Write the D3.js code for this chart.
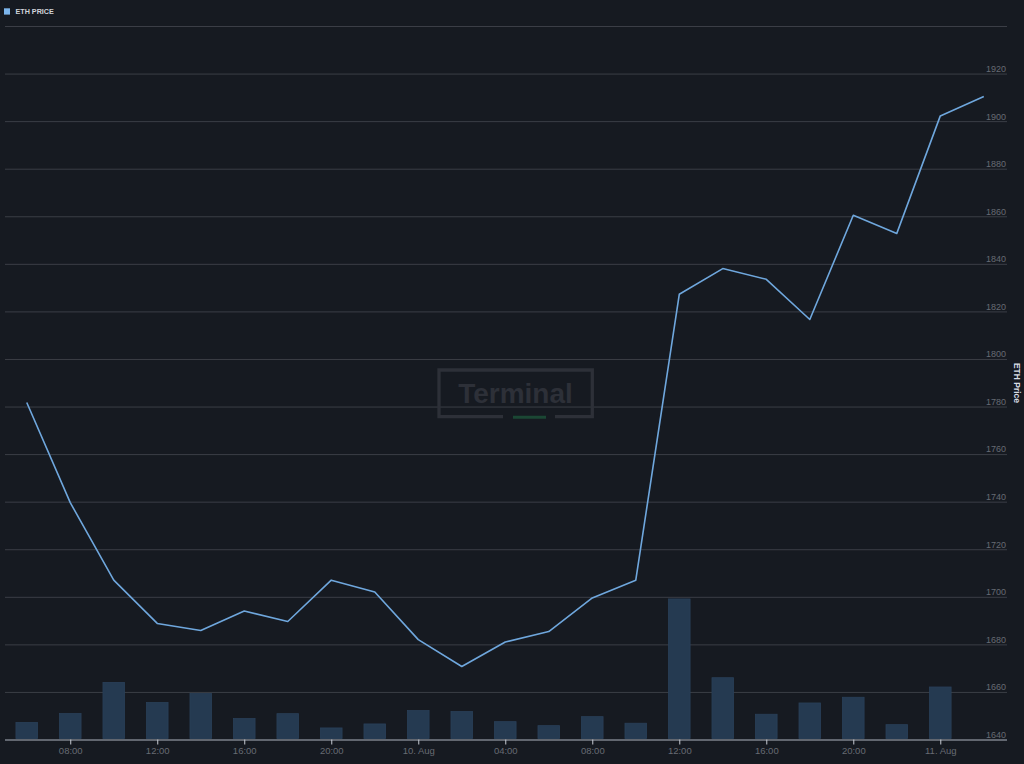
<!DOCTYPE html>
<html>
<head>
<meta charset="utf-8">
<script src="https://cdn.jsdelivr.net/npm/d3@7"></script>
<style>
  html, body { margin: 0; padding: 0; background: #161a21; }
  svg { display: block; font-family: "Liberation Sans", Arial, sans-serif; }
</style>
</head>
<body>
<svg id="chart" width="1024" height="764"></svg>
<script>
// 2-hourly samples, 9 Aug 06:00 -> 11 Aug 02:00
var start = new Date(2023, 7, 9, 6)
var price = [1781.7, 1739.6, 1707, 1688.8, 1685.8, 1694, 1689.6, 1707, 1702, 1682, 1670.7, 1681,
             1685.4, 1699.5, 1707, 1827.2, 1838, 1833.5, 1816.6, 1860.4, 1852.8, 1902.2, 1910.4]
var volume = [119, 182, 400, 259, 322, 147, 181, 81, 109, 203, 196, 125,
              97, 160, 114, 985, 433, 177, 256, 296, 104, 368]
var priceTicks = [1640, 1660, 1680, 1700, 1720, 1740, 1760, 1780, 1800, 1820, 1840, 1860, 1880, 1900, 1920, 1940]

var times = price.map(function(d, i){ return d3.timeHour.offset(start, i * 2) })

var svg = d3.select("#chart")
// plot box (note: "top" is taken by window.top)
var pLeft = 5, pRight = 1007, pTop = 26, pBottom = 739.5

var x = d3.scaleTime()
  .domain([new Date(2023, 7, 9, 5, 0), new Date(2023, 7, 11, 3, 4)])
  .range([pLeft, pRight])
var y = d3.scaleLinear().domain([1640, 1940]).range([pBottom, pTop])
var yv = d3.scaleLinear().domain([0, 5000]).range([pBottom, pTop])

// grid
var grid = svg.append("g").attr("transform", "translate(" + pLeft + ",0)")
  .call(d3.axisLeft(y).tickValues(priceTicks).tickSize(-(pRight - pLeft)).tickFormat(""))
grid.select(".domain").remove()
grid.selectAll("line").attr("stroke", "#3b3e46").attr("stroke-width", 1)

// watermark
var wm = svg.append("g").attr("fill", "none")
wm.append("path")
  .attr("d", "M503,416.6 L439,416.6 L439,370 L592.3,370 L592.3,416.6 L555,416.6")
  .attr("stroke", "#2d3038").attr("stroke-width", 3.3)
wm.append("line").attr("x1", 513).attr("x2", 546).attr("y1", 417.2).attr("y2", 417.2)
  .attr("stroke", "#1b4734").attr("stroke-width", 3)
wm.append("text").attr("x", 515.5).attr("y", 403).attr("text-anchor", "middle")
  .attr("font-size", 28).attr("font-weight", "bold").attr("fill", "#2d3038").text("Terminal")

// volume bars
var bw = 21.6
svg.append("g").selectAll("rect").data(volume).enter().append("rect")
  .attr("x", function(d, i){ return x(times[i]) - bw / 2 })
  .attr("y", function(d){ return yv(d) })
  .attr("width", bw)
  .attr("height", function(d){ return pBottom - 1 - yv(d) })
  .attr("fill", "#253a51")
  .attr("stroke", "#2a4059")
  .attr("stroke-width", 0.8)

// price line
var line = d3.line()
  .x(function(d, i){ return x(times[i]) })
  .y(function(d){ return y(d) })
svg.append("path").datum(price)
  .attr("d", line)
  .attr("fill", "none")
  .attr("stroke", "#6fa7dd")
  .attr("stroke-width", 1.6)
  .attr("stroke-linejoin", "round")

// x axis
var fmt = function(d){
  return d.getHours() === 0 ? d3.timeFormat("%-d. %b")(d) : d3.timeFormat("%H:%M")(d)
}
var xa = svg.append("g").attr("transform", "translate(0," + pBottom + ")")
  .call(d3.axisBottom(x).ticks(d3.timeHour.every(4)).tickSize(5).tickPadding(3).tickFormat(fmt))
xa.select(".domain").attr("stroke", "#9ba1ad").attr("d", "M" + pLeft + ",0.5H" + pRight)
xa.selectAll("line").attr("stroke", "#c8ccd4")
xa.selectAll("text").attr("fill", "#676b73").attr("font-size", 9.5).attr("font-family", null)

// y labels inside the plot, above their grid line
var ya = svg.append("g").attr("transform", "translate(" + (pRight - 1) + ",-5)")
  .call(d3.axisLeft(y).tickValues(priceTicks.slice(0, -1)).tickSize(0).tickPadding(0).tickFormat(d3.format("d")))
ya.select(".domain").remove()
ya.selectAll("text").attr("fill", "#676b73").attr("font-size", 9).attr("font-family", null)

// axis title
svg.append("text")
  .attr("transform", "translate(1014,383) rotate(90)")
  .attr("text-anchor", "middle")
  .attr("font-size", 8.5).attr("font-weight", "bold").attr("fill", "#d8dce4")
  .text("ETH Price")

// legend
svg.append("rect").attr("x", 4).attr("y", 8.3).attr("width", 6).attr("height", 6.3).attr("fill", "#7cb5ec")
svg.append("text").attr("x", 15.5).attr("y", 14.3)
  .attr("font-size", 7.2).attr("font-weight", "bold").attr("fill", "#cfd3da")
  .text("ETH PRICE")
</script>
</body>
</html>
